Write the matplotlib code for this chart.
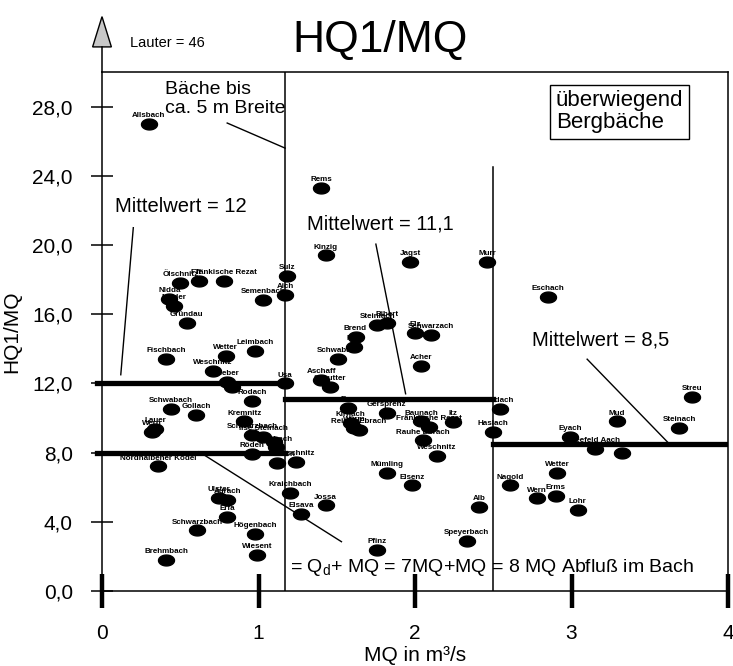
import numpy as np
import matplotlib
matplotlib.use('Agg')
import matplotlib.pyplot as plt
from matplotlib.path import Path
from matplotlib.patches import Polygon

plt.rcParams['font.family'] = ['Liberation Sans', 'DejaVu Sans']
plt.rcParams['mathtext.fontset'] = 'custom'
plt.rcParams['mathtext.rm'] = 'Liberation Sans'

# rivers: MQ (m3/s) and HQ1/MQ
names = ['Allsbach', 'Ölschnitz', 'Tr', 'Fränkische Rezat', 'Nidda', 'Nieder',
         'Gründau', 'Semenbach', 'Fischbach', 'Wetter', 'Leimbach', 'Weschnitz',
         'Bieber', '', 'Usa', 'Rodach', 'Schwabach', 'Gollach', 'Kremnitz',
         'Wern', 'Lauer', 'Schwarzbach', 'Ilse Steinach', '', 'Sulzbach', 'Röden',
         'Gersbach', 'Weschnitz', 'Nordhalbener Ködel', 'Ulster', 'Aurach', 'Erfa',
         'Schwarzbach', 'Högenbach', 'Brehmbach', 'Wiesent',
         'Rems', 'Kinzig', 'Jagst', 'Murr', 'Sulz', 'Aich', 'Steinlach', 'Bibert',
         'Brend', 'Elz', 'Schwarzach', 'Nau', 'Schwabach', 'Acher', 'Aschaff',
         'Schutter', 'Enz', 'Gersprenz', 'Kirnach', 'Würm', 'Reiche Ebrach',
         'Baunach', 'Fränkische Rezat', 'Itz', 'Rauhe Ebrach', 'Weschnitz',
         'Mümling', 'Elsenz', 'Kraichbach', 'Jossa', 'Elsava', 'Pfinz', 'Alb',
         'Speyerbach', 'Haslach', 'Rodach', 'Eschach', 'Streu', 'Mud', 'Steinach',
         'Eyach', 'Seefeld Aach', '', 'Nagold', 'Wetter', 'Wern', 'Erms', 'Lohr']
mq = [0.30, 0.50, 0.62, 0.78, 0.43, 0.46,
      0.54, 1.03, 0.41, 0.79, 0.98, 0.71,
      0.80, 0.83, 1.17, 0.96, 0.44, 0.60, 0.91,
      0.32, 0.34, 0.96, 1.03, 1.10, 1.11, 0.96,
      1.12, 1.24, 0.36, 0.75, 0.80, 0.80,
      0.61, 0.98, 0.41, 0.99,
      1.40, 1.43, 1.97, 2.46, 1.18, 1.17, 1.76, 1.82,
      1.62, 2.00, 2.10, 1.61, 1.51, 2.04, 1.40,
      1.46, 1.57, 1.82, 1.59, 1.61, 1.64,
      2.04, 2.09, 2.24, 2.05, 2.14,
      1.82, 1.98, 1.20, 1.43, 1.27, 1.76, 2.41,
      2.33, 2.50, 2.54, 2.85, 3.77, 3.29, 3.69,
      2.99, 3.15, 3.32, 2.61, 2.91, 2.78, 2.90, 3.04]
hq_mq = [27.0, 17.8, 17.9, 17.9, 16.9, 16.5,
         15.5, 16.8, 13.4, 13.6, 13.9, 12.7,
         12.1, 11.8, 12.0, 11.0, 10.5, 10.2, 9.8,
         9.2, 9.35, 9.0, 8.9, 8.6, 8.3, 7.9,
         7.4, 7.45, 7.2, 5.4, 5.25, 4.3,
         3.5, 3.3, 1.8, 2.1,
         23.3, 19.4, 19.0, 19.0, 18.2, 17.1, 15.4, 15.5,
         14.7, 14.9, 14.8, 14.1, 13.4, 13.0, 12.2,
         11.8, 10.6, 10.3, 9.7, 9.45, 9.3,
         9.8, 9.5, 9.75, 8.7, 7.8,
         6.8, 6.1, 5.65, 4.95, 4.45, 2.35, 4.85,
         2.9, 9.2, 10.5, 17.0, 11.2, 9.8, 9.45,
         8.9, 8.2, 8.0, 6.1, 6.8, 5.35, 5.5, 4.7]

# group borders and means
borders = [1.17, 2.50]
means = [12.0, 11.1, 8.5]
yticks = [0, 4, 8, 12, 16, 20, 24, 28]
xticks = [0, 1, 2, 3, 4]

fig = plt.figure(figsize=(7.33, 6.66), dpi=100)
ax = fig.add_axes([102/733, 1 - 591/666, 626/733, 519/666])
ax.set_xlim(0, 4)
ax.set_ylim(0, 30)

# ellipse marker
t = np.linspace(0, 2*np.pi, 60)
ell = Path(np.column_stack([np.cos(t), 0.68*np.sin(t)]), closed=True)
ax.plot(mq, hq_mq, linestyle='none', marker=ell, markersize=11.5,
        color='black', clip_on=False)
for n, x, y in zip(names, mq, hq_mq):
    if n:
        ax.annotate(n, (x, y), xytext=(0, 3.5), textcoords='offset points',
                    ha='center', va='bottom', fontsize=5.8, fontweight='bold')

# dividers and mean lines
ax.plot([borders[0], borders[0]], [0, 30], color='black', lw=1.1)
ax.plot([borders[1], borders[1]], [0, 24.5], color='black', lw=1.1)
ax.plot([-0.03, borders[0]], [means[0], means[0]], color='black', lw=3.8, clip_on=False)
ax.plot([-0.03, borders[0]], [8.0, 8.0], color='black', lw=3.8, clip_on=False)
ax.plot([borders[0], borders[1]], [means[1], means[1]], color='black', lw=3.8)
ax.plot([borders[1], 4], [means[2], means[2]], color='black', lw=3.8)

# annotation lines
ax.plot([0.80, 1.17], [27.05, 25.6], color='black', lw=1)
ax.plot([0.20, 0.12], [21.0, 12.5], color='black', lw=1)
ax.plot([1.75, 1.94], [20.05, 11.4], color='black', lw=1)
ax.plot([3.10, 3.62], [13.4, 8.55], color='black', lw=1)
ax.plot([0.62, 1.53], [8.05, 2.85], color='black', lw=1)

ax.text(0.40, 28.45, 'Bäche bis\nca. 5 m Breite', fontsize=14, va='center',
        ha='left', linespacing=1.15)
ax.text(0.08, 22.2, 'Mittelwert = 12', fontsize=14.5, va='center')
ax.text(1.31, 21.2, 'Mittelwert = 11,1', fontsize=14.5, va='center')
ax.text(2.75, 14.5, 'Mittelwert = 8,5', fontsize=14.5, va='center')
ax.text(1.20, 1.35, '= Q$_\\mathrm{d}$+ MQ = 7MQ+MQ = 8 MQ Abfluß im Bach',
        fontsize=14, va='center')
ax.text(2.90, 27.7, 'überwiegend\nBergbäche', fontsize=16, va='center',
        ha='left', linespacing=1.05,
        bbox=dict(boxstyle='square,pad=0.25', fc='white', ec='black', lw=1))

# axes styling
for s in ax.spines.values():
    s.set_linewidth(1.1)
ax.set_yticks(yticks)
ax.set_yticklabels([('%.1f' % v).replace('.', ',') for v in yticks])
ax.set_xticks(xticks)
ax.set_xticklabels([str(v) for v in xticks])
ax.tick_params(axis='y', direction='inout', length=16, width=1.1,
               labelsize=15, pad=13)
ax.tick_params(axis='x', direction='inout', length=24, width=3.2,
               labelsize=15, pad=12)
ax.set_xlabel('MQ in m³/s', fontsize=15, labelpad=2)
ax.set_ylabel('HQ1/MQ', fontsize=15, labelpad=8)

# arrow for Lauter outlier
ax.plot([0, 0], [30, 31.45], color='black', lw=1.1, clip_on=False)
ax.add_patch(Polygon([[-0.06, 31.45], [0.0, 33.2], [0.06, 31.45]], closed=True,
                     fc='#c8c8c8', ec='black', lw=1, clip_on=False))
ax.text(0.18, 31.7, 'Lauter = 46', fontsize=10.5, va='center')

fig.text(380/733, 1 - 40/666, 'HQ1/MQ', fontsize=32, ha='center', va='center')

fig.savefig('out.png', dpi=100)
